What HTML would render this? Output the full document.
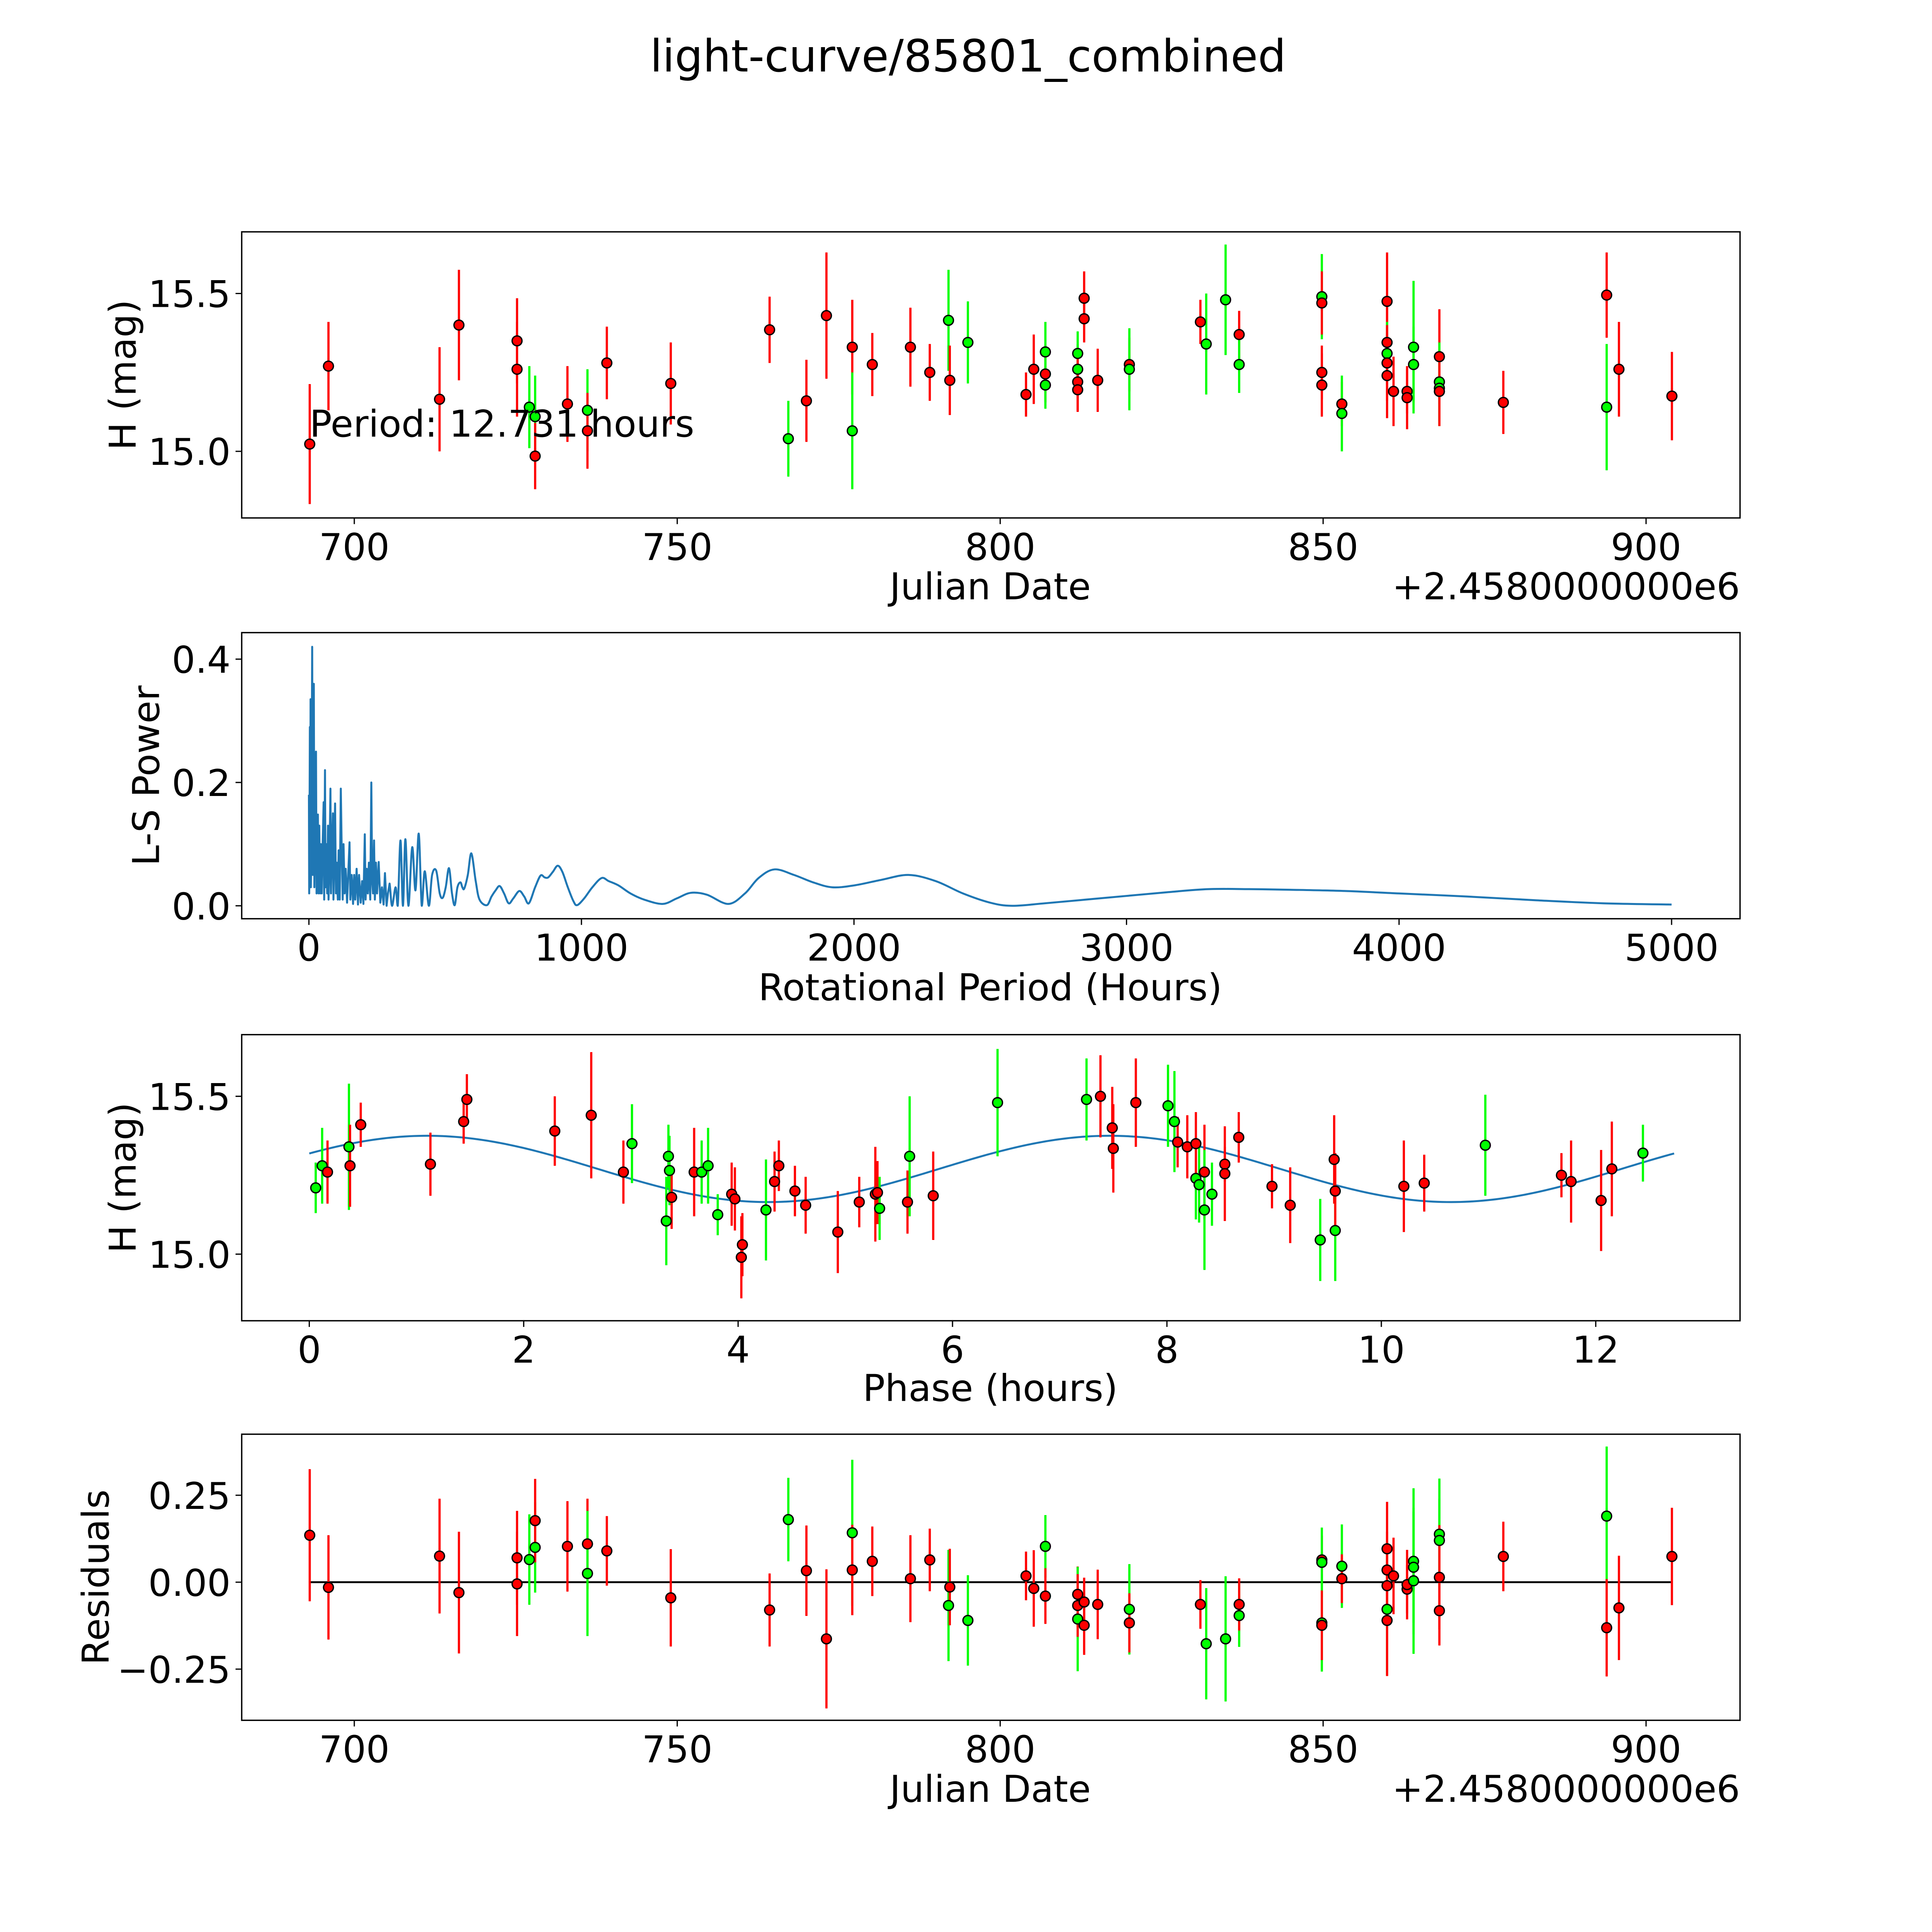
<!DOCTYPE html>
<html><head><meta charset="utf-8"><style>
html,body{margin:0;padding:0;background:#fff;width:5400px;height:5400px;overflow:hidden}
svg{display:block;overflow:hidden}
text{font-family:"DejaVu Sans","Liberation Sans",sans-serif;fill:#000}
</style></head><body>
<svg id="fig" xmlns="http://www.w3.org/2000/svg" width="5400" height="5400" viewBox="0 0 1692 1692">
<rect width="1692" height="1692" fill="#fff"/>
<text x="785" y="58" font-size="36" text-anchor="middle">light-curve/85801_combined</text>
<g id="root"></g>
</svg>
<script>
// ---------- Panel 1: light curve (JD offset, mag, err, color) ----------
const lcJD  = [693.1,696,713.2,716.2,725.2,725.2,727.1,728,728,733,736.1,736.1,739.1,749,764.3,767.2,770,773.1,777.1,777.1,780.2,786.1,789.1,792,792.2,795,804,805.2,807,807,807,812,812,812,812,813,813,815.1,820,820,831,831.9,834.9,837,837,849.8,849.8,849.8,849.8,852.9,852.9,859.9,859.9,859.9,859.9,859.9,860.9,863,863,864,864,868,868,868,868,877.9,893.9,893.9,895.8,904];
const lcMag = [15.023,15.27,15.165,15.40,15.35,15.26,15.14,15.11,14.985,15.15,15.13,15.065,15.28,15.215,15.385,15.04,15.16,15.43,15.33,15.065,15.275,15.33,15.25,15.415,15.225,15.345,15.18,15.26,15.245,15.315,15.21,15.31,15.26,15.22,15.195,15.485,15.42,15.225,15.275,15.26,15.41,15.34,15.48,15.37,15.275,15.49,15.47,15.25,15.21,15.15,15.12,15.475,15.345,15.31,15.28,15.24,15.19,15.19,15.17,15.33,15.275,15.30,15.22,15.20,15.19,15.155,15.495,15.14,15.26,15.175];
const lcErr = [0.19,0.14,0.165,0.175,0.135,0.15,0.13,0.13,0.105,0.12,0.13,0.12,0.115,0.13,0.105,0.12,0.13,0.2,0.15,0.185,0.1,0.125,0.09,0.16,0.11,0.13,0.07,0.11,0.09,0.095,0.075,0.07,0.08,0.09,0.07,0.085,0.075,0.1,0.085,0.13,0.07,0.16,0.175,0.075,0.09,0.135,0.1,0.085,0.1,0.07,0.12,0.155,0.11,0.1,0.12,0.135,0.11,0.07,0.1,0.21,0.12,0.15,0.125,0.12,0.11,0.1,0.135,0.2,0.15,0.14];
const lcCol = ["r","r","r","r","r","r","g","g","r","r","g","r","r","r","r","g","r","r","r","g","r","r","r","g","r","g","r","r","r","g","g","g","g","r","r","r","r","r","r","g","r","g","g","r","g","g","r","r","r","r","g","r","r","g","r","r","r","r","r","g","g","r","g","g","r","r","r","g","r","r"];
const periodLabel = "Period: 12.731 hours";

// ---------- Panel 2: periodogram ----------
const lsPeriod = [
 0,1,2,3.5,5,6,7,9,12,14,
 16,18,20,22,26,28,30,33,35,38,
 41,44,47,50,54,56,59,61,64,67,
 70,72,75,79,81,84,88,90,96,99,
 102,106,109,113,117,120,124,127,131,135,
 140,149,152,157,162,166,170,175,180,184,
 190,195,200,205,208,212,216,220,225,229,
 232,235,239,242,246,250,256,262,268,274,
 279,285,290,296,305,318,326,336,345,354,
 365,379,391,403,414,425,440,452,467,480,
 491,502,514,525,535,545,556,563,570,583,
 596,612,626,653,670,685,700,716,733,750,
 772,790,807,830,850,865,878,895,913,930,
 950,970,984,1010,1040,1074,1100,1136,1180,1230,
 1298,1350,1401,1460,1539,1600,1650,1708,1780,1850,
 1920,2000,2100,2200,2300,2400,2500,2580,2700,2850,
 3000,3150,3300,3450,3600,3800,4000,4250,4500,4750,
 5000];
const lsPower = [
 0.18,0.02,0.1,0.29,0.05,0.335,0.03,0.08,0.42,0.05,
 0.1,0.36,0.03,0.12,0.25,0.02,0.14,0.148,0.02,0.13,
 0.02,0.1,0.02,0.09,0.168,0.01,0.22,0.03,0.1,0.02,
 0.13,0.01,0.06,0.19,0.02,0.08,0.15,0.01,0.166,0.02,
 0.07,0.01,0.09,0.01,0.19,0.1,0.01,0.1,0.02,0.06,
 0.005,0.103,0.01,0.05,0.003,0.05,0.01,0.06,0.002,0.05,
 0.005,0.04,0.003,0.116,0.01,0.06,0.02,0.07,0.01,0.2,
 0.04,0.02,0.106,0.01,0.07,0.02,0.071,0.005,0.03,0.002,
 0.053,0.0,0.02,0.036,0.0,0.03,0.0,0.106,0.0,0.108,
 0.0,0.095,0.025,0.117,0.0,0.056,0.0,0.05,0.057,0.02,
 0.013,0.03,0.061,0.02,0.001,0.03,0.038,0.03,0.028,0.05,
 0.085,0.04,0.01,0.001,0.015,0.025,0.032,0.02,0.004,0.012,
 0.024,0.015,0.004,0.03,0.049,0.046,0.046,0.055,0.065,0.055,
 0.03,0.008,0.001,0.012,0.03,0.045,0.04,0.033,0.02,0.01,
 0.003,0.012,0.021,0.018,0.003,0.02,0.045,0.059,0.05,0.038,
 0.03,0.033,0.042,0.05,0.04,0.02,0.005,0.0,0.004,0.01,
 0.016,0.022,0.027,0.027,0.026,0.024,0.02,0.015,0.009,0.004,
 0.002];

// ---------- Panel 3: phased curve ----------
const phX   = [0.06,0.12,0.17,0.37,0.38,0.48,1.13,1.44,1.47,2.29,2.63,2.93,3.01,3.33,3.35,3.36,3.38,3.59,3.66,3.72,3.81,3.94,3.97,4.03,4.04,4.26,4.34,4.38,4.53,4.63,4.93,5.13,5.28,5.30,5.32,5.58,5.60,5.82,6.42,7.25,7.38,7.49,7.50,7.71,8.01,8.07,8.10,8.19,8.27,8.27,8.30,8.35,8.35,8.42,8.54,8.54,8.67,8.98,9.15,9.43,9.56,9.57,9.57,10.21,10.40,10.97,11.68,11.77,12.05,12.15,12.44];
const phMag = [15.21,15.28,15.26,15.34,15.28,15.41,15.285,15.42,15.49,15.39,15.44,15.26,15.35,15.105,15.31,15.265,15.18,15.26,15.26,15.28,15.125,15.19,15.175,14.99,15.03,15.14,15.23,15.28,15.2,15.155,15.07,15.165,15.19,15.195,15.145,15.165,15.31,15.185,15.48,15.49,15.50,15.40,15.335,15.48,15.47,15.42,15.355,15.34,15.24,15.35,15.22,15.26,15.14,15.19,15.285,15.255,15.37,15.215,15.155,15.045,15.30,15.075,15.2,15.215,15.225,15.345,15.25,15.23,15.17,15.27,15.32];
const phErr = [0.08,0.12,0.1,0.2,0.13,0.07,0.1,0.07,0.08,0.11,0.2,0.1,0.125,0.14,0.1,0.11,0.1,0.14,0.1,0.12,0.065,0.1,0.1,0.13,0.1,0.16,0.095,0.08,0.08,0.09,0.13,0.08,0.15,0.1,0.1,0.1,0.19,0.14,0.17,0.13,0.13,0.13,0.14,0.14,0.13,0.16,0.08,0.1,0.13,0.1,0.12,0.15,0.19,0.1,0.055,0.15,0.08,0.07,0.12,0.13,0.14,0.16,0.12,0.145,0.09,0.16,0.07,0.13,0.16,0.15,0.09];
const phCol = ["g","g","r","g","r","r","r","r","r","r","r","r","g","g","g","g","r","r","g","g","g","r","r","r","r","g","r","r","r","r","r","r","r","r","g","r","g","r","g","g","r","r","r","r","g","g","r","r","g","r","g","r","g","g","r","r","r","r","r","g","r","g","r","r","r","g","r","r","r","r","g"];
const modelPeriod = [12.731];
const modelMean = [15.27];
const modelAmp = [0.105];
const modelPeakPhase = [1.1];

// ---------- Panel 4: residuals ----------
const resJD  = [693.1,696,713.2,716.2,725.2,725.2,727.1,728,728,733,736.1,736.1,739.1,749,764.3,767.2,770,773.1,777.1,777.1,780.2,786.1,789.1,792,792.2,795,804,805.2,807,807,812,812,812,813,813,815.1,820,820,831,831.9,834.9,837,837,849.8,849.8,849.8,849.8,852.9,852.9,859.9,859.9,859.9,859.9,859.9,860.9,863,863,864,864,864,868,868,868,868,877.9,893.9,893.9,895.8,904];
const resVal = [0.135,-0.015,0.075,-0.03,0.07,-0.005,0.065,0.10,0.177,0.103,0.11,0.025,0.09,-0.045,-0.08,0.18,0.033,-0.163,0.142,0.035,0.06,0.01,0.064,-0.067,-0.014,-0.11,0.018,-0.018,0.103,-0.04,-0.035,-0.106,-0.067,-0.057,-0.124,-0.064,-0.078,-0.117,-0.064,-0.177,-0.163,-0.096,-0.064,0.064,0.057,-0.117,-0.124,0.046,0.01,0.096,0.035,-0.078,-0.11,-0.01,0.018,-0.02,-0.007,0.06,0.043,0.004,0.138,0.12,0.014,-0.082,0.074,0.19,-0.131,-0.074,0.074];
const resErr = [0.19,0.15,0.165,0.175,0.135,0.15,0.13,0.13,0.12,0.13,0.13,0.18,0.1,0.14,0.105,0.12,0.13,0.2,0.21,0.13,0.1,0.125,0.09,0.16,0.11,0.13,0.07,0.11,0.09,0.08,0.08,0.15,0.09,0.07,0.085,0.1,0.13,0.085,0.07,0.16,0.18,0.09,0.075,0.07,0.1,0.14,0.1,0.12,0.07,0.135,0.11,0.19,0.16,0.1,0.11,0.07,0.1,0.21,0.16,0.21,0.16,0.12,0.15,0.1,0.1,0.2,0.14,0.15,0.14];
const resCol = ["r","r","r","r","r","r","g","g","r","r","r","g","r","r","r","g","r","r","g","r","r","r","r","g","r","g","r","r","g","r","r","g","r","r","r","r","g","r","r","g","g","g","r","r","g","g","r","g","r","r","r","g","r","r","r","r","r","g","g","g","g","g","r","r","r","g","r","r","r"];

// ---------- layout ----------
const NS="http://www.w3.org/2000/svg";
const root=document.getElementById('root');
function el(tag,attrs,parent,txt){const e=document.createElementNS(NS,tag);for(const k in attrs)e.setAttribute(k,attrs[k]);if(txt!==undefined)e.textContent=txt;(parent||root).appendChild(e);return e;}
const L=196,R=1411,FS=30;
function lin(d0,d1,p0,p1){return v=>p0+(v-d0)*(p1-p0)/(d1-d0);}
const COL={r:"#ff0000",g:"#00ff00"};

function axesFrame(g,top,bot){
  el('rect',{x:L,y:top,width:R-L,height:bot-top,fill:'none',stroke:'#000','stroke-width':1.1},g);
}
function xTicks(g,bot,ticks,xs,fmt){
  ticks.forEach(t=>{const x=xs(t);
    const l=el('line',{x1:x,x2:x,y1:bot,y2:bot+5,stroke:'#000','stroke-width':1},g);
    
    
    const tx=el('text',{x:x,y:bot+34,'font-size':FS,'text-anchor':'middle'},g,fmt(t));
    
    
  });
}
function yTicks(g,ticks,ys,fmt){
  ticks.forEach(t=>{const y=ys(t);
    const l=el('line',{x1:L-5,x2:L,y1:y,y2:y,stroke:'#000','stroke-width':1},g);
    
    
    const tx=el('text',{x:L-9,y:y+11,'font-size':FS,'text-anchor':'end'},g,fmt(t));
    
    
  });
}
function label(g,x,y,txt,name,rot){
  const t=el('text',{x:x,y:y,'font-size':FS,'text-anchor':'middle'},g,txt);
  if(rot)t.setAttribute('transform','rotate(-90 '+x+' '+y+')');
  
  
}
function errPoints(g,xsArr,ysArr,errs,cols,xs,ys,clipId){
  const gg=el('g',{'clip-path':'url(#'+clipId+')'},g);
  for(let i=0;i<xsArr.length;i++){
    const x=xs(xsArr[i]);
    const b=el('line',{x1:x,x2:x,y1:ys(ysArr[i]-errs[i]),y2:ys(ysArr[i]+errs[i]),stroke:COL[cols[i]],'stroke-width':1.8},gg);
    
    
  }
  for(let i=0;i<xsArr.length;i++){
    const c=el('circle',{cx:xs(xsArr[i]),cy:ys(ysArr[i]),r:4,fill:COL[cols[i]],stroke:'#000','stroke-width':1.1},gg);
    
    
  }
}
function clip(id,top,bot){
  const cp=el('clipPath',{id:id});el('rect',{x:L,y:top,width:R-L,height:bot-top},cp);
}

// Panel 1
{
  const top=188,bot=420;
  const g=el('g',{});
  const xs=lin(700,900,287.3,1334.8), ys=lin(15,15.5,366,238);
  clip('c1',top,bot);
  errPoints(g,lcJD,lcMag,lcErr,lcCol,xs,ys,'c1');
  axesFrame(g,top,bot);
  xTicks(g,bot,[700,750,800,850,900],xs,t=>String(t));
  yTicks(g,[15.0,15.5],ys,t=>t.toFixed(1));
  label(g,803,486,'Julian Date','x-axis-title');
  const o=el('text',{x:R,y:486,'font-size':FS,'text-anchor':'end'},g,'+2.4580000000e6');
  
  label(g,110,304,'H (mag)','y-axis-title',true);
  const p=el('text',{x:251,y:354,'font-size':FS},g,periodLabel);
  
}
// Panel 2
{
  const top=513,bot=745;
  const g=el('g',{});
  const xs=lin(0,5000,250.5,1355.5), ys=lin(0,0.4,734.5,534.5);
  clip('c2',top,bot);
  const n=Math.min(lsPeriod.length,lsPower.length);
  const pts=[];for(let i=0;i<n;i++)pts.push([xs(lsPeriod[i]),ys(lsPower[i])]);
  let d='M'+pts[0][0].toFixed(2)+','+pts[0][1].toFixed(2);
  for(let i=1;i<n;i++){
    if(lsPeriod[i]<300){d+='L'+pts[i][0].toFixed(2)+','+pts[i][1].toFixed(2);continue;}
    const p0=pts[i-2]||pts[i-1],p1=pts[i-1],p2=pts[i],p3=pts[i+1]||pts[i];
    const c1=[p1[0]+(p2[0]-p0[0])/6,p1[1]+(p2[1]-p0[1])/6],c2=[p2[0]-(p3[0]-p1[0])/6,p2[1]-(p3[1]-p1[1])/6];
    d+='C'+c1[0].toFixed(2)+','+Math.min(c1[1],735.5).toFixed(2)+' '+c2[0].toFixed(2)+','+Math.min(c2[1],735.5).toFixed(2)+' '+p2[0].toFixed(2)+','+p2[1].toFixed(2);
  }
  const path=el('path',{d:d,fill:'none',stroke:'#1f77b4','stroke-width':1.6,'stroke-linejoin':'round','clip-path':'url(#c2)'},g);
  
  axesFrame(g,top,bot);
  xTicks(g,bot,[0,1000,2000,3000,4000,5000],xs,t=>String(t));
  yTicks(g,[0.0,0.2,0.4],ys,t=>t.toFixed(1));
  label(g,803,811,'Rotational Period (Hours)','x-axis-title');
  label(g,129,629,'L-S Power','y-axis-title',true);
}
// Panel 3
{
  const top=839,bot=1071;
  const g=el('g',{});
  const xs=lin(0,12,250.8,1294), ys=lin(15,15.5,1017,889);
  clip('c3',top,bot);
  let d='';
  const P=modelPeriod[0];
  for(let k=0;k<=300;k++){const ph=P*k/300;const m=modelMean[0]+modelAmp[0]*Math.cos(4*Math.PI*(ph-modelPeakPhase[0])/P);
    d+=(k?'L':'M')+xs(ph).toFixed(2)+','+ys(m).toFixed(2);}
  const ml=el('path',{d:d,fill:'none',stroke:'#1f77b4','stroke-width':1.6},g);
  
  errPoints(g,phX,phMag,phErr,phCol,xs,ys,'c3');
  axesFrame(g,top,bot);
  xTicks(g,bot,[0,2,4,6,8,10,12],xs,t=>String(t));
  yTicks(g,[15.0,15.5],ys,t=>t.toFixed(1));
  label(g,803,1136,'Phase (hours)','x-axis-title');
  label(g,110,955,'H (mag)','y-axis-title',true);
}
// Panel 4
{
  const top=1163,bot=1395;
  const g=el('g',{});
  const xs=lin(700,900,287.3,1334.8), ys=lin(0,0.25,1283,1212.5);
  clip('c4',top,bot);
  const zl=el('line',{x1:xs(693.1),x2:xs(904),y1:ys(0),y2:ys(0),stroke:'#000','stroke-width':1.5},g);
  
  errPoints(g,resJD,resVal,resErr,resCol,xs,ys,'c4');
  axesFrame(g,top,bot);
  xTicks(g,bot,[700,750,800,850,900],xs,t=>String(t));
  yTicks(g,[-0.25,0,0.25],ys,t=>(t<0?'\u22120.25':t.toFixed(2)));
  label(g,803,1461,'Julian Date','x-axis-title');
  const o=el('text',{x:R,y:1461,'font-size':FS,'text-anchor':'end'},g,'+2.4580000000e6');
  
  label(g,88,1279,'Residuals','y-axis-title',true);
}
</script>
</body></html>
